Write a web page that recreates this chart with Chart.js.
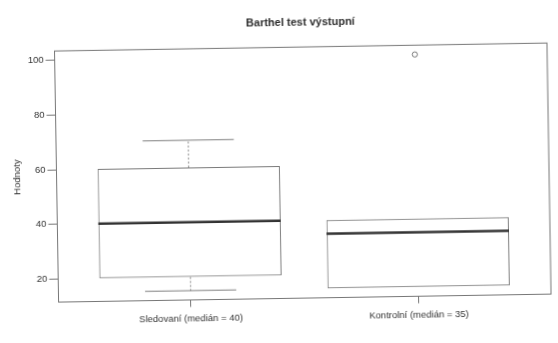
<!DOCTYPE html>
<html>
<head>
<meta charset="utf-8">
<script src="https://cdn.jsdelivr.net/npm/chart.js@4/dist/chart.umd.min.js"></script>
<style>
  html, body { margin: 0; padding: 0; background: #fff; overflow: hidden; }
  #wrap { width: 558px; height: 343px; position: relative; background: #fff; }
  #chart { position: absolute; left: 0; top: 0; transform: rotate(-0.93deg); transform-origin: 279px 171.5px; }
</style>
</head>
<body>
<div id="wrap"><canvas id="chart" width="558" height="343"></canvas></div>
<script>
// Barthel test (exit) – box plot of two groups
const groupNames = ['Sledovaní', 'Kontrolní'];
const groupPositions = [1, 2];
const lowerWhisker = [15, 15];
const lowerQuartile = [20, 15];
const medianValues = [40, 35];
const upperQuartile = [60, 40];
const upperWhisker = [70, 40];
const outlierValues = [[], [100]];
const yTickValues = [20, 40, 60, 80, 100];

const FONT = '"Liberation Sans", Arial, Helvetica, sans-serif';
const TEXT = '#333';
const LINE = '#777';

const groupLabels = groupNames.map((g, i) => g + ' (medián = ' + medianValues[i] + ')');

const boxData = groupPositions.map((x, i) => ({ x: x, y: [lowerQuartile[i], upperQuartile[i]] }));
const outlierData = [];
outlierValues.forEach((vals, i) => vals.forEach(v => outlierData.push({ x: groupPositions[i], y: v })));

// frame, whiskers, caps and medians, placed through the chart's scales
const boxPlotPlugin = {
  id: 'boxPlotParts',
  afterDatasetsDraw(chart) {
    const { ctx, chartArea, scales: { x, y } } = chart;
    ctx.save();

    // plot frame
    ctx.strokeStyle = LINE;
    ctx.lineWidth = 1;
    ctx.setLineDash([]);
    ctx.strokeRect(chartArea.left, chartArea.top, chartArea.right - chartArea.left, chartArea.bottom - chartArea.top);

    groupPositions.forEach((pos, i) => {
      const cx = x.getPixelForValue(pos);
      const capL = x.getPixelForValue(pos - 0.2);
      const capR = x.getPixelForValue(pos + 0.2);
      const boxL = x.getPixelForValue(pos - 0.4);
      const boxR = x.getPixelForValue(pos + 0.4);

      // dashed whiskers
      ctx.strokeStyle = '#8a8a8a';
      ctx.lineWidth = 1;
      ctx.setLineDash([2, 2]);
      if (upperWhisker[i] > upperQuartile[i]) {
        ctx.beginPath();
        ctx.moveTo(cx, y.getPixelForValue(upperQuartile[i]));
        ctx.lineTo(cx, y.getPixelForValue(upperWhisker[i]));
        ctx.stroke();
      }
      if (lowerWhisker[i] < lowerQuartile[i]) {
        ctx.beginPath();
        ctx.moveTo(cx, y.getPixelForValue(lowerQuartile[i]));
        ctx.lineTo(cx, y.getPixelForValue(lowerWhisker[i]));
        ctx.stroke();
      }

      // whisker caps
      ctx.setLineDash([]);
      ctx.strokeStyle = '#808080';
      if (upperWhisker[i] > upperQuartile[i]) {
        const yy = y.getPixelForValue(upperWhisker[i]);
        ctx.beginPath(); ctx.moveTo(capL, yy); ctx.lineTo(capR, yy); ctx.stroke();
      }
      if (lowerWhisker[i] < lowerQuartile[i]) {
        const yy = y.getPixelForValue(lowerWhisker[i]);
        ctx.beginPath(); ctx.moveTo(capL, yy); ctx.lineTo(capR, yy); ctx.stroke();
      }

      // median
      const ym = y.getPixelForValue(medianValues[i]);
      ctx.strokeStyle = '#333';
      ctx.lineWidth = 2.5;
      ctx.beginPath(); ctx.moveTo(boxL, ym); ctx.lineTo(boxR, ym); ctx.stroke();
    });
    ctx.restore();
  }
};

new Chart(document.getElementById('chart'), {
  type: 'bar',
  data: {
    datasets: [
      {
        type: 'bar',
        data: boxData,
        backgroundColor: 'rgba(255,255,255,0)',
        borderColor: '#7a7a7a',
        borderWidth: 1,
        borderSkipped: false,
        categoryPercentage: 1,
        barPercentage: 0.8
      },
      {
        type: 'scatter',
        data: outlierData,
        pointStyle: 'circle',
        pointRadius: 2.6,
        pointBorderWidth: 1,
        pointBorderColor: '#777',
        pointBackgroundColor: 'rgba(255,255,255,0)'
      }
    ]
  },
  options: {
    responsive: false,
    animation: false,
    events: [],
    layout: { padding: { left: 0, right: 9, top: 0, bottom: 0 } },
    plugins: {
      legend: { display: false },
      tooltip: { enabled: false },
      title: {
        display: true,
        fullSize: false,
        text: 'Barthel test výstupní',
        color: '#2e2e2e',
        font: { family: FONT, size: 11, weight: 'bold' },
        padding: { top: 16.8, bottom: 17.4 }
      }
    },
    scales: {
      x: {
        type: 'linear',
        min: 0.42,
        max: 2.58,
        offset: false,
        afterBuildTicks: s => { s.ticks = groupPositions.map(v => ({ value: v })); },
        afterFit: s => { s.height = 44.5; },
        border: { display: false },
        grid: { display: true, offset: false, drawOnChartArea: false, drawTicks: true, tickLength: 7, tickColor: LINE, color: LINE },
        ticks: {
          autoSkip: false,
          maxRotation: 0,
          padding: 6,
          color: TEXT,
          font: { family: FONT, size: 9.5 },
          callback: v => { const k = groupPositions.indexOf(v); return k >= 0 ? groupLabels[k] : ''; }
        }
      },
      y: {
        min: 11.6,
        max: 103.4,
        afterBuildTicks: s => { s.ticks = yTickValues.map(v => ({ value: v })); },
        afterFit: s => { s.width = 56.5; },
        border: { display: false },
        grid: { display: true, drawOnChartArea: false, drawTicks: true, tickLength: 9, tickColor: LINE, color: LINE },
        ticks: {
          padding: 2,
          color: TEXT,
          font: { family: FONT, size: 9.5 },
          callback: v => String(v)
        },
        title: {
          display: true,
          text: 'Hodnoty',
          color: TEXT,
          font: { family: FONT, size: 9.5 },
          padding: { top: 11.3, bottom: 0 }
        }
      }
    }
  },
  plugins: [boxPlotPlugin]
});
</script>
</body>
</html>
